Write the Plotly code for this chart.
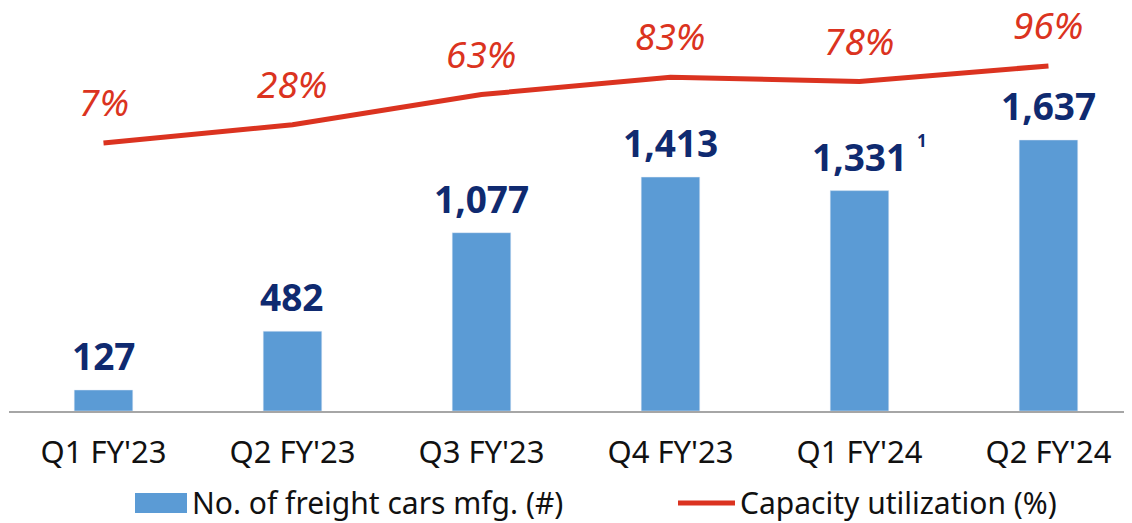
import plotly.graph_objects as go

quarters = ["Q1 FY'23", "Q2 FY'23", "Q3 FY'23", "Q4 FY'23", "Q1 FY'24", "Q2 FY'24"]
cars_mfg = [127, 482, 1077, 1413, 1331, 1637]
cars_labels = ["127", "482", "1,077", "1,413", "1,331", "1,637"]
capacity_util = [7, 28, 63, 83, 78, 96]

FONT = "Noto Sans"
BAR_C = "#5B9BD5"
LINE_C = "#DB3320"
NAVY = "#0F2A70"

fig = go.Figure()
fig.add_trace(go.Bar(x=quarters, y=cars_mfg, marker_color=BAR_C, name="No. of freight cars mfg. (#)",
                     showlegend=False))
fig.add_trace(go.Scatter(x=quarters, y=capacity_util, yaxis="y2", mode="lines",
                         line=dict(color=LINE_C, width=5), name="Capacity utilization (%)",
                         showlegend=False))

# data labels
for q, v, t in zip(quarters, cars_mfg, cars_labels):
    fig.add_annotation(x=q, y=v, yref="y", text=f"<b>{t}</b>", showarrow=False,
                       yanchor="bottom", yshift=7, font=dict(family=FONT, size=37, color=NAVY))
for q, v in zip(quarters, capacity_util):
    fig.add_annotation(x=q, y=v, yref="y2", text=f"<i>{v}%</i>", showarrow=False,
                       yanchor="bottom", yshift=14, font=dict(family=FONT, size=37, color=LINE_C))
# footnote marker
fig.add_annotation(x=quarters[4], y=cars_mfg[4], yref="y", text="<b>1</b>", showarrow=False,
                   xshift=63, yanchor="bottom", yshift=37, font=dict(family=FONT, size=17, color=NAVY))

# custom legend
LY = -0.228
fig.add_shape(type="rect", xref="paper", yref="paper", x0=126/1123, x1=178/1123, y0=-0.2035, y1=-0.253,
              fillcolor=BAR_C, line_width=0)
fig.add_annotation(xref="paper", yref="paper", x=181/1123, y=LY, text="No. of freight cars mfg. (#)",
                   showarrow=False, xanchor="left", yanchor="middle", font=dict(family=FONT, size=30, color="#111"))
fig.add_shape(type="line", xref="paper", yref="paper", x0=669/1123, x1=726/1123, y0=LY, y1=LY,
              line=dict(color=LINE_C, width=5))
fig.add_annotation(xref="paper", yref="paper", x=729/1123, y=LY, text="Capacity utilization (%)",
                   showarrow=False, xanchor="left", yanchor="middle", font=dict(family=FONT, size=30, color="#111"))

fig.update_layout(
    width=1124, height=515,
    margin=dict(l=1, r=0, t=0, b=112),
    plot_bgcolor="white", paper_bgcolor="white",
    bargap=0.69,
    font=dict(family=FONT, color="#111"),
    xaxis=dict(range=[-0.5, 5.442], showline=True, linecolor="#A6A6A6", linewidth=2,
               ticks="", ticklabelstandoff=13, tickfont=dict(size=31, color="#111")),
    yaxis=dict(range=[0, 2434], visible=False, showgrid=False),
    yaxis2=dict(range=[-302.9, 163.0], overlaying="y", visible=False, showgrid=False),
)

fig.write_html("out.html")
